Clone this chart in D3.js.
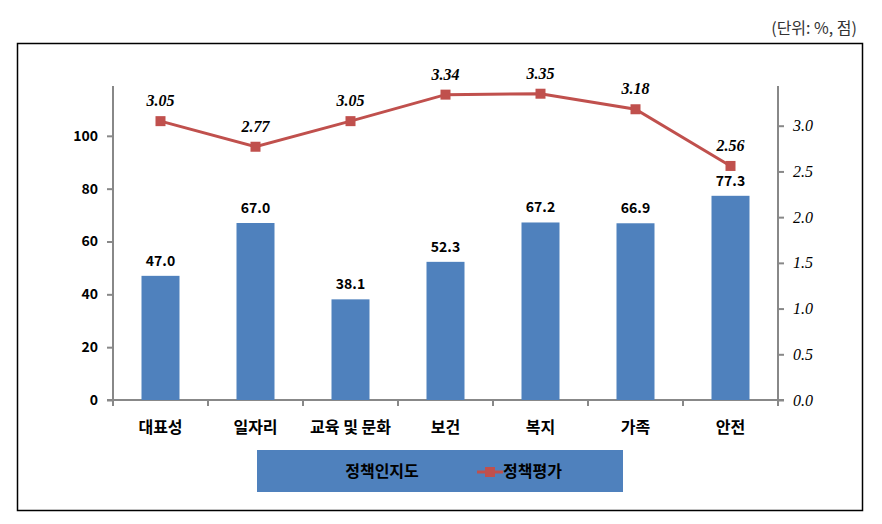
<!DOCTYPE html>
<html>
<head>
<meta charset="utf-8">
<script src="https://cdn.jsdelivr.net/npm/d3@7"></script>
<style>
body { margin: 0; background: #fff; }
</style>
</head>
<body>
<script>
var categories = ["대표성", "일자리", "교육 및 문화", "보건", "복지", "가족", "안전"];
var awareness = [47.0, 67.0, 38.1, 52.3, 67.2, 66.9, 77.3];
var evaluation = [3.05, 2.77, 3.05, 3.34, 3.35, 3.18, 2.56];
var leftTicks = [0, 20, 40, 60, 80, 100];
var rightTicks = [0, 0.5, 1.0, 1.5, 2.0, 2.5, 3.0];

var width = 882,
    height = 524;

// note: "top" is reserved on window, so use plot* names
var plotLeft = 113, plotRight = 778, plotTop = 83, plotBottom = 400;

var sans = "'Noto Sans CJK KR', 'Noto Sans', sans-serif";
var serif = "'Liberation Serif', 'DejaVu Serif', serif";

var svg = d3.select("body").append("svg")
    .attr("width", width)
    .attr("height", height);

// outer frame
svg.append("rect")
    .attr("x", 17.5).attr("y", 43.5)
    .attr("width", 845).attr("height", 467)
    .attr("fill", "none").attr("stroke", "#000").attr("stroke-width", 1.5);

svg.append("text")
    .attr("x", 857).attr("y", 34)
    .attr("text-anchor", "end")
    .style("font-family", sans).style("font-size", "16px")
    .attr("fill", "#333")
    .text("(단위: %, 점)");

var x = d3.scaleBand().domain(categories).range([plotLeft, plotRight]);
var yL = d3.scaleLinear().domain([0, 120]).range([plotBottom, plotTop]);
var yR = d3.scaleLinear().domain([0, 3.5]).range([plotBottom, plotTop - 3]);

// axes
var axisL = svg.append("g")
    .attr("transform", "translate(" + plotLeft + ",0)")
    .call(d3.axisLeft(yL).tickValues(leftTicks).tickSize(6).tickSizeOuter(0).tickFormat(d3.format("d")));
axisL.selectAll("text")
    .style("font-family", sans).style("font-size", "14px").style("font-weight", "bold")
    .attr("fill", "#000").attr("dx", "-6");

var axisR = svg.append("g")
    .attr("transform", "translate(" + plotRight + ",0)")
    .call(d3.axisRight(yR).tickValues(rightTicks).tickSize(6).tickSizeOuter(0).tickFormat(d3.format(".1f")));
axisR.selectAll("text")
    .style("font-family", serif).style("font-size", "16px").style("font-style", "italic")
    .attr("fill", "#000").attr("dx", "6");

var axisX = svg.append("g")
    .attr("transform", "translate(0," + plotBottom + ")")
    .call(d3.axisBottom(x).tickSize(0));
axisX.selectAll("text")
    .style("font-family", sans).style("font-size", "16px").style("font-weight", "bold")
    .attr("fill", "#000").attr("dy", "1.9em");

// band separators on x axis
svg.append("g").selectAll("line")
    .data(categories.concat(["end"]))
    .enter().append("line")
    .attr("x1", function(d, i) { return plotLeft + i * x.step(); })
    .attr("x2", function(d, i) { return plotLeft + i * x.step(); })
    .attr("y1", plotBottom).attr("y2", plotBottom + 6)
    .attr("stroke", "#888").attr("stroke-width", 2);

svg.selectAll(".domain, .tick line").attr("stroke", "#888").attr("stroke-width", 2);
axisL.select(".domain").attr("d", "M0," + (plotTop + 3) + "V" + plotBottom);
axisR.select(".domain").attr("d", "M0," + (plotTop + 3) + "V" + (plotBottom + 6));
axisX.select(".domain").attr("d", "M" + (plotLeft - 6) + ",0H" + (plotRight + 6));

// bars
var bw = x.bandwidth() * 0.4;
svg.append("g").selectAll("rect")
    .data(awareness)
    .enter().append("rect")
    .attr("x", function(d, i) { return x(categories[i]) + x.bandwidth() / 2 - bw / 2; })
    .attr("y", function(d) { return yL(d); })
    .attr("width", bw)
    .attr("height", function(d) { return plotBottom - yL(d); })
    .attr("fill", "#4F81BD");

svg.append("g").selectAll("text")
    .data(awareness)
    .enter().append("text")
    .attr("x", function(d, i) { return x(categories[i]) + x.bandwidth() / 2; })
    .attr("y", function(d) { return yL(d) - 10; })
    .attr("text-anchor", "middle")
    .style("font-family", sans).style("font-size", "14px").style("font-weight", "bold")
    .text(function(d) { return d.toFixed(1); });

// line
var line = d3.line()
    .x(function(d, i) { return x(categories[i]) + x.bandwidth() / 2; })
    .y(function(d) { return yR(d); });

svg.append("path")
    .datum(evaluation)
    .attr("d", line)
    .attr("fill", "none")
    .attr("stroke", "#C0504D")
    .attr("stroke-width", 3);

svg.append("g").selectAll("rect")
    .data(evaluation)
    .enter().append("rect")
    .attr("x", function(d, i) { return x(categories[i]) + x.bandwidth() / 2 - 5; })
    .attr("y", function(d) { return yR(d) - 5; })
    .attr("width", 10).attr("height", 10)
    .attr("fill", "#C0504D");

svg.append("g").selectAll("text")
    .data(evaluation)
    .enter().append("text")
    .attr("x", function(d, i) { return x(categories[i]) + x.bandwidth() / 2; })
    .attr("y", function(d) { return yR(d) - 15; })
    .attr("text-anchor", "middle")
    .style("font-family", serif).style("font-size", "16px")
    .style("font-style", "italic").style("font-weight", "bold")
    .text(function(d) { return d.toFixed(2); });

// legend
var legend = svg.append("g");
legend.append("rect")
    .attr("x", 257).attr("y", 450)
    .attr("width", 366).attr("height", 42)
    .attr("fill", "#4F81BD");
legend.append("text")
    .attr("x", 382).attr("y", 477)
    .attr("text-anchor", "middle")
    .style("font-family", sans).style("font-size", "16px").style("font-weight", "bold")
    .text("정책인지도");
legend.append("line")
    .attr("x1", 477).attr("x2", 503).attr("y1", 472).attr("y2", 472)
    .attr("stroke", "#C0504D").attr("stroke-width", 3);
legend.append("rect")
    .attr("x", 485).attr("y", 467).attr("width", 10).attr("height", 10)
    .attr("fill", "#C0504D");
legend.append("text")
    .attr("x", 503).attr("y", 477)
    .style("font-family", sans).style("font-size", "16px").style("font-weight", "bold")
    .text("정책평가");
</script>
</body>
</html>
